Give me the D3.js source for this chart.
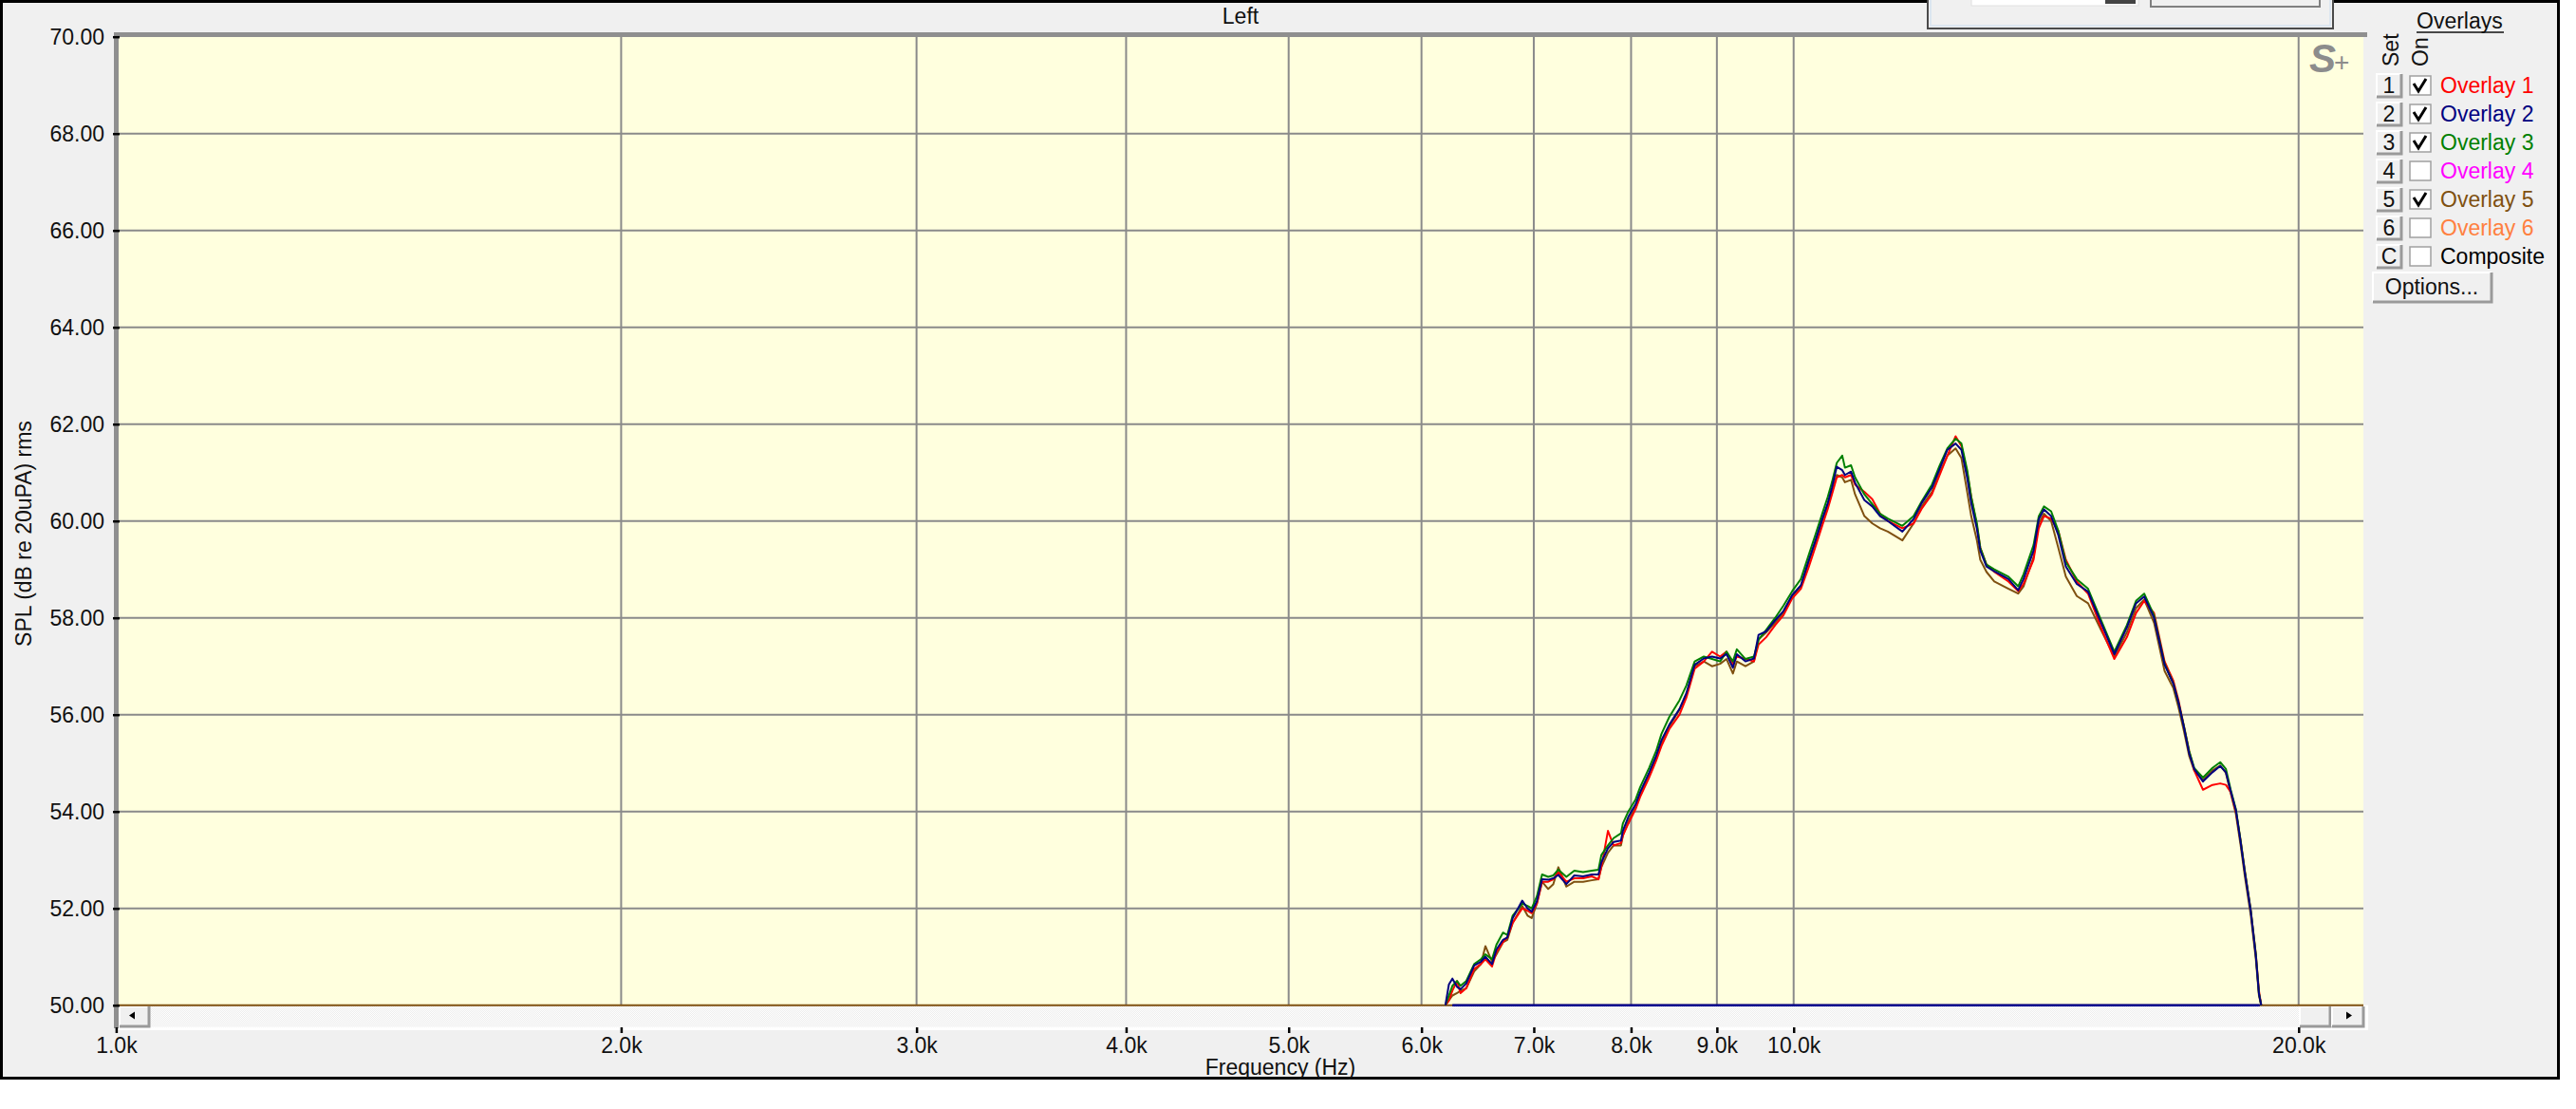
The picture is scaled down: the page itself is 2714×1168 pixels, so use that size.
<!DOCTYPE html>
<html><head><meta charset="utf-8">
<script src="https://cdn.jsdelivr.net/npm/d3@7"></script>
<style>
html,body{margin:0;padding:0;background:#fff;}
svg{display:block;}
text{font-family:"Liberation Sans",Arial,sans-serif;}
</style></head><body>
<svg id="chart" width="2714" height="1168"></svg>
<script>
// ---------------- DATA ----------------
const freqs = [
 6200, 6230, 6260, 6300, 6330, 6380, 6450, 6510, 6550, 6610,
 6650, 6710, 6750, 6800, 6890, 6940, 6980, 7030, 7080, 7140,
 7190, 7240, 7320, 7400, 7490, 7580, 7650, 7680, 7750, 7810,
 7890, 7910, 7970, 8050, 8100, 8200, 8280, 8340, 8430, 8550,
 8630, 8730, 8840, 8940, 9040, 9120, 9200, 9250, 9360, 9470,
 9530, 9630, 9750, 9860, 9980, 10100, 10210, 10300, 10400, 10480,
 10540, 10610, 10690, 10730, 10820, 10880, 11020, 11140, 11260, 11380,
 11610, 11790, 11920, 12090, 12220, 12350, 12490, 12590, 12690, 12760,
 12860, 12920, 13030, 13170, 13430, 13610, 13710, 13900, 14000, 14100,
 14240, 14380, 14530, 14750, 14980, 15250, 15530, 15800, 16000, 16180,
 16400, 16640, 16840, 16960, 17090, 17210, 17330, 17540, 17770, 17960,
 18100, 18220, 18350, 18470, 18580, 18730, 18860, 18940, 19000
];
const overlay1 = [ // red
 50.00, 50.10, 50.30, 50.50, 50.25, 50.35, 50.75, 50.85, 50.95, 50.80,
 51.10, 51.30, 51.40, 51.70, 52.00, 51.95, 51.90, 52.10, 52.55, 52.55,
 52.60, 52.75, 52.55, 52.62, 52.62, 52.66, 52.60, 52.85, 53.60, 53.30,
 53.35, 53.50, 53.75, 54.05, 54.30, 54.70, 55.05, 55.35, 55.70, 56.00,
 56.35, 56.95, 57.10, 57.30, 57.20, 57.30, 57.05, 57.20, 57.15, 57.10,
 57.45, 57.60, 57.85, 58.05, 58.40, 58.60, 59.05, 59.45, 59.90, 60.25,
 60.55, 60.90, 60.95, 60.90, 60.95, 60.75, 60.60, 60.45, 60.15, 60.00,
 59.85, 59.95, 60.25, 60.55, 60.95, 61.35, 61.75, 61.55, 61.00, 60.50,
 59.90, 59.45, 59.10, 58.95, 58.75, 58.55, 58.70, 59.20, 59.85, 60.10,
 60.05, 59.80, 59.20, 58.75, 58.50, 57.80, 57.15, 57.60, 58.10, 58.35,
 58.10, 57.10, 56.70, 56.30, 55.75, 55.25, 54.85, 54.45, 54.55, 54.58,
 54.55, 54.40, 54.00, 53.40, 52.75, 51.95, 51.05, 50.30, 50.00
];
const overlay2 = [ // navy
 50.00, 50.43, 50.55, 50.38, 50.33, 50.45, 50.82, 50.90, 51.00, 50.85,
 51.15, 51.35, 51.40, 51.80, 52.16, 52.00, 51.93, 52.15, 52.60, 52.59,
 52.62, 52.69, 52.50, 52.68, 52.66, 52.70, 52.70, 52.95, 53.24, 53.37,
 53.40, 53.60, 53.89, 54.15, 54.40, 54.80, 55.15, 55.47, 55.79, 56.12,
 56.44, 57.03, 57.16, 57.20, 57.16, 57.25, 56.97, 57.25, 57.10, 57.16,
 57.65, 57.72, 57.95, 58.14, 58.47, 58.67, 59.19, 59.58, 60.04, 60.37,
 60.69, 61.12, 61.05, 60.95, 61.02, 60.79, 60.43, 60.30, 60.10, 60.00,
 59.78, 60.04, 60.37, 60.69, 61.08, 61.47, 61.60, 61.47, 60.89, 60.37,
 59.84, 59.39, 59.06, 58.96, 58.80, 58.57, 58.80, 59.39, 60.04, 60.24,
 60.10, 59.71, 59.06, 58.70, 58.54, 57.90, 57.25, 57.80, 58.30, 58.44,
 58.00, 57.03, 56.64, 56.25, 55.73, 55.20, 54.88, 54.62, 54.81, 54.94,
 54.81, 54.42, 54.03, 53.37, 52.72, 51.93, 51.02, 50.24, 50.00
];
const overlay3 = [ // green
 50.00, 50.20, 50.40, 50.50, 50.40, 50.50, 50.85, 50.95, 51.05, 50.95,
 51.25, 51.50, 51.45, 51.85, 52.10, 52.05, 52.00, 52.25, 52.70, 52.65,
 52.68, 52.80, 52.65, 52.78, 52.75, 52.78, 52.80, 53.10, 53.30, 53.45,
 53.55, 53.75, 54.00, 54.25, 54.50, 54.90, 55.25, 55.60, 55.95, 56.30,
 56.60, 57.10, 57.20, 57.15, 57.10, 57.30, 57.10, 57.35, 57.15, 57.20,
 57.55, 57.75, 58.00, 58.25, 58.55, 58.80, 59.30, 59.70, 60.15, 60.50,
 60.80, 61.20, 61.35, 61.10, 61.15, 60.90, 60.55, 60.35, 60.15, 60.05,
 59.90, 60.10, 60.40, 60.75, 61.15, 61.50, 61.70, 61.60, 61.05, 60.50,
 59.95, 59.45, 59.10, 59.00, 58.85, 58.65, 58.90, 59.50, 60.10, 60.30,
 60.20, 59.80, 59.15, 58.80, 58.60, 57.95, 57.30, 57.85, 58.35, 58.50,
 58.05, 57.05, 56.65, 56.25, 55.75, 55.25, 54.90, 54.70, 54.90, 55.02,
 54.88, 54.45, 54.05, 53.40, 52.75, 51.95, 51.05, 50.25, 50.00
];
const overlay5 = [ // brown
 50.00, 50.10, 50.20, 50.25, 50.30, 50.35, 50.70, 50.85, 51.22, 50.90,
 51.05, 51.30, 51.35, 51.70, 52.05, 51.85, 51.80, 52.10, 52.55, 52.40,
 52.50, 52.85, 52.45, 52.55, 52.55, 52.58, 52.60, 52.85, 53.15, 53.30,
 53.30, 53.50, 53.80, 54.10, 54.35, 54.75, 55.10, 55.40, 55.75, 56.10,
 56.40, 57.00, 57.10, 57.00, 57.05, 57.15, 56.85, 57.10, 57.00, 57.10,
 57.55, 57.70, 57.90, 58.10, 58.45, 58.65, 59.15, 59.55, 60.00, 60.30,
 60.60, 60.95, 60.90, 60.80, 60.85, 60.55, 60.10, 59.95, 59.85, 59.78,
 59.60, 59.95, 60.30, 60.60, 61.00, 61.35, 61.50, 61.30, 60.60, 60.10,
 59.60, 59.20, 58.95, 58.75, 58.60, 58.50, 58.65, 59.25, 59.95, 60.15,
 60.00, 59.45, 58.85, 58.45, 58.30, 57.75, 57.20, 57.70, 58.20, 58.38,
 57.90, 56.90, 56.55, 56.15, 55.65, 55.15, 54.85, 54.65, 54.85, 54.95,
 54.80, 54.38, 53.95, 53.30, 52.65, 51.85, 50.95, 50.20, 50.00
];
const floorSpan = [6260, 18960];   // navy trace sitting on the 50 dB floor
const xTicks = [1000, 2000, 3000, 4000, 5000, 6000, 7000, 8000, 9000, 10000, 20000];
const xTickLabels = ["1.0k","2.0k","3.0k","4.0k","5.0k","6.0k","7.0k","8.0k","9.0k","10.0k","20.0k"];
const yTicks = [50, 52, 54, 56, 58, 60, 62, 64, 66, 68, 70];
const legendKeys = ["1","2","3","4","5","6","C"];
const legendLabels = ["Overlay 1","Overlay 2","Overlay 3","Overlay 4","Overlay 5","Overlay 6","Composite"];
const legendColors = ["#ff0000","#000080","#008000","#ff00ff","#7f5010","#ff8040","#000000"];
const legendOn = [true, true, true, false, true, false, false];

// ---------------- DRAW ----------------
const svg = d3.select("#chart");
const X0 = 122.4, X1 = 2490, Y0 = 38.7, Y1 = 1058.7;
const x = d3.scaleLog().domain([1000, 21860]).range([X0, X1]);
const y = d3.scaleLinear().domain([50, 70]).range([Y1, Y0]);
const FONT = 23, TXT = "#111";

// outer frame
svg.append("rect").attr("x",1.5).attr("y",1.5).attr("width",2694).attr("height",1134)
  .attr("fill","#f0f0f0").attr("stroke","#000").attr("stroke-width",3);

// top control box (partially clipped)
const tb = svg.append("g");
tb.append("rect").attr("x",2031).attr("y",-10).attr("width",427).attr("height",40)
  .attr("fill","#f0f0f0").attr("stroke","#4a4a4a").attr("stroke-width",2);
tb.append("rect").attr("x",2034).attr("y",-10).attr("width",421).attr("height",37)
  .attr("fill","none").attr("stroke","#dce6f0").attr("stroke-width",2);
tb.append("rect").attr("x",2077).attr("y",-6).attr("width",176).attr("height",12)
  .attr("fill","#fff").attr("stroke","#e0e0e0");
tb.append("rect").attr("x",2218).attr("y",-4).attr("width",32).attr("height",8).attr("fill","#444");
tb.append("rect").attr("x",2266).attr("y",-6).attr("width",178).attr("height",13)
  .attr("fill","#f0f0f0").attr("stroke","#808080").attr("stroke-width",2);

// title
svg.append("text").attr("x",1307).attr("y",25).attr("text-anchor","middle")
  .attr("font-size",FONT).attr("fill",TXT).text("Left");

// plot background
svg.append("rect").attr("x",X0).attr("y",Y0).attr("width",X1-X0).attr("height",Y1-Y0).attr("fill","#ffffde");

// scrollbar strip
const defs = svg.append("defs");
const pat = defs.append("pattern").attr("id","dither").attr("width",2).attr("height",2).attr("patternUnits","userSpaceOnUse");
pat.append("rect").attr("width",2).attr("height",2).attr("fill","#ffffff");
pat.append("rect").attr("width",1).attr("height",1).attr("fill","#ececec");
pat.append("rect").attr("x",1).attr("y",1).attr("width",1).attr("height",1).attr("fill","#ececec");
svg.append("rect").attr("x",124).attr("y",Y1).attr("width",2371).attr("height",1085-Y1).attr("fill","#fff");
svg.append("rect").attr("x",126).attr("y",Y1+1).attr("width",2364).attr("height",22).attr("fill","url(#dither)");

function button(g, bx, by, bw, bh){
  g.append("rect").attr("x",bx).attr("y",by).attr("width",bw).attr("height",bh).attr("fill","#f0f0f0");
  g.append("path").attr("d",`M${bx},${by+bh}V${by}H${bx+bw}`).attr("fill","none").attr("stroke","#fff").attr("stroke-width",2);
  g.append("path").attr("d",`M${bx},${by+bh}H${bx+bw}V${by}`).attr("fill","none").attr("stroke","#9a9a9a").attr("stroke-width",3);
}
const sb = svg.append("g");
button(sb, 126, 1060, 31, 21);
sb.append("path").attr("d","M136,1069.5L142,1065.5V1073.5Z").attr("fill","#000");
button(sb, 2423, 1060, 32, 21);
button(sb, 2457, 1060, 33, 21);
sb.append("path").attr("d","M2478,1069.5L2472,1065.5V1073.5Z").attr("fill","#000");

// grid
const grid = svg.append("g").attr("stroke","#8a8a8a").attr("stroke-width",2);
grid.selectAll("line.v").data(xTicks.filter(d => d > 1000)).join("line")
  .attr("x1",d=>x(d)).attr("x2",d=>x(d)).attr("y1",Y0).attr("y2",Y1);
grid.selectAll("line.h").data(yTicks.filter(d => d > 50 && d < 70)).join("line")
  .attr("x1",X0).attr("x2",X1).attr("y1",d=>y(d)).attr("y2",d=>y(d));

// frame borders of plot (sunken look)
svg.append("rect").attr("x",120).attr("y",34).attr("width",2374).attr("height",5).attr("fill","#8f8f8f");
svg.append("rect").attr("x",120).attr("y",34).attr("width",5).attr("height",1049).attr("fill","#8f8f8f");

// S+ logo
svg.append("text").attr("x",2433).attr("y",76).attr("font-family","'Liberation Serif','DejaVu Serif',serif")
  .attr("font-style","italic").attr("font-weight","bold").attr("font-size",42).attr("fill","#8c8c8c").text("S");
svg.append("text").attr("x",2459).attr("y",75).attr("font-family","'Liberation Serif','DejaVu Serif',serif")
  .attr("font-size",28).attr("fill","#8c8c8c").text("+");

// curves
defs.append("clipPath").attr("id","clip").append("rect")
  .attr("x",X0).attr("y",Y0).attr("width",X1-X0).attr("height",Y1-Y0+2);
const plot = svg.append("g").attr("clip-path","url(#clip)");
// floor line
plot.append("line").attr("x1",x(1000)).attr("x2",x(21860)).attr("y1",y(50)).attr("y2",y(50))
  .attr("stroke","#7f5010").attr("stroke-width",2);
plot.append("line").attr("x1",x(floorSpan[0])).attr("x2",x(floorSpan[1])).attr("y1",y(50)).attr("y2",y(50))
  .attr("stroke","#000090").attr("stroke-width",2.5);

const line = d3.line().x((d,i)=>x(freqs[i])).y(d=>y(d));
const series = [
  {vals: overlay5, color: legendColors[4]},
  {vals: overlay1, color: legendColors[0]},
  {vals: overlay3, color: legendColors[2]},
  {vals: overlay2, color: legendColors[1]}
];
plot.selectAll("path.curve").data(series).join("path")
  .attr("class","curve").attr("d",d=>line(d.vals)).attr("fill","none")
  .attr("stroke",d=>d.color).attr("stroke-width",2).attr("stroke-linejoin","round");

// y axis
const yAxis = d3.axisLeft(y).tickValues(yTicks).tickFormat(d3.format(".2f")).tickSize(7).tickPadding(9);
const ya = svg.append("g").attr("transform","translate(126,0)").call(yAxis);
ya.select(".domain").remove();
ya.selectAll(".tick line").attr("stroke","#000").attr("stroke-width",2.5);
ya.selectAll(".tick text").attr("font-size",FONT).attr("fill",TXT).attr("font-family","'Liberation Sans',Arial,sans-serif");

// x axis
const xAxis = d3.axisBottom(x).tickValues(xTicks).tickFormat((d,i)=>xTickLabels[i]).tickSize(6).tickPadding(5);
const xa = svg.append("g").attr("transform","translate(0,1082)").call(xAxis);
xa.select(".domain").remove();
xa.selectAll(".tick line").attr("stroke","#000").attr("stroke-width",2.5);
xa.selectAll(".tick text").attr("font-size",FONT).attr("fill",TXT).attr("font-family","'Liberation Sans',Arial,sans-serif");

// axis titles
svg.append("text").attr("x",1349).attr("y",1132).attr("text-anchor","middle")
  .attr("font-size",FONT).attr("fill",TXT).text("Frequency (Hz)");
svg.append("text").attr("transform","translate(33,562) rotate(-90)").attr("text-anchor","middle")
  .attr("font-size",FONT).attr("fill",TXT).text("SPL (dB re 20uPA) rms");

// legend
const lg = svg.append("g");
lg.append("text").attr("x",2546).attr("y",30).attr("font-size",FONT).attr("fill",TXT).text("Overlays");
lg.append("line").attr("x1",2546).attr("x2",2638).attr("y1",34).attr("y2",34).attr("stroke",TXT).attr("stroke-width",1.5);
lg.append("text").attr("transform","translate(2527,70) rotate(-90)").attr("font-size",FONT).attr("fill",TXT).text("Set");
lg.append("text").attr("transform","translate(2558,70) rotate(-90)").attr("font-size",FONT).attr("fill",TXT).text("On");
legendKeys.forEach((k,i)=>{
  const cy = 90 + 30*i;
  button(lg, 2504, cy-12, 26, 24);
  lg.append("text").attr("x",2517).attr("y",cy+8).attr("text-anchor","middle")
    .attr("font-size",FONT).attr("fill",TXT).text(k);
  lg.append("rect").attr("x",2539).attr("y",cy-10).attr("width",22).attr("height",20)
    .attr("fill","#fff").attr("stroke","#a0a0a0").attr("stroke-width",1.5);
  if (legendOn[i]) {
    lg.append("path").attr("d",`M2543,${cy-2}L2548,${cy+6}L2556,${cy-7}`)
      .attr("fill","none").attr("stroke","#000").attr("stroke-width",3);
  }
  lg.append("text").attr("x",2571).attr("y",cy+8).attr("font-size",FONT)
    .attr("fill",legendColors[i]).text(legendLabels[i]);
});
button(lg, 2500, 287, 125, 31);
lg.append("text").attr("x",2562).attr("y",310).attr("text-anchor","middle")
  .attr("font-size",FONT).attr("fill",TXT).text("Options...");
</script>
</body></html>
